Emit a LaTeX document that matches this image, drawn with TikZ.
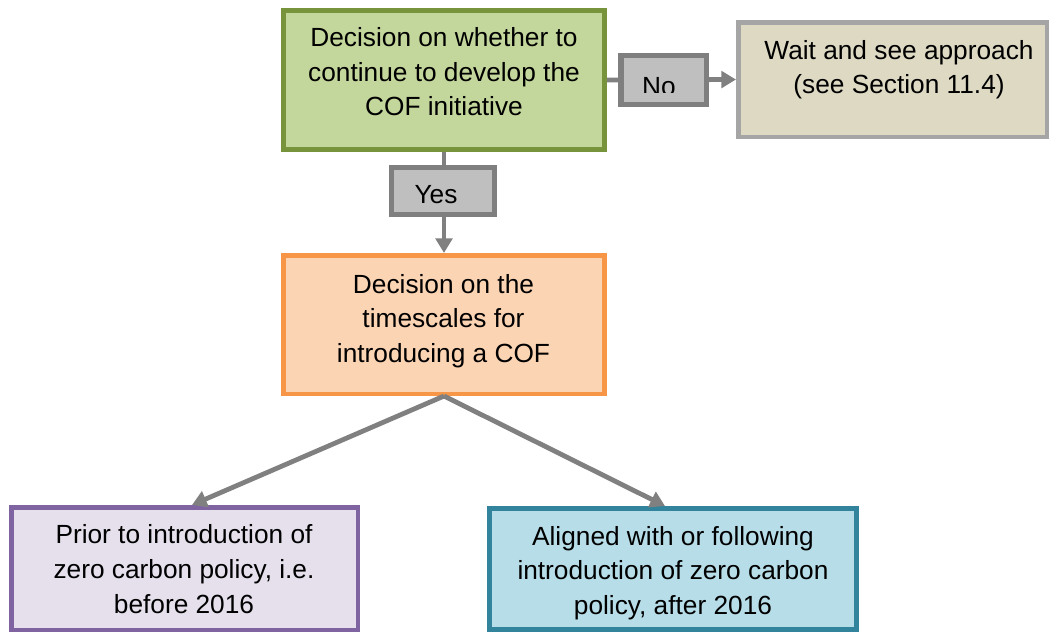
\documentclass[tikz,border=0pt]{standalone}
\usepackage{fontspec}
\setmainfont{Liberation Sans}
\usetikzlibrary{arrows.meta,calc}
\definecolor{grnB}{HTML}{77933C}
\definecolor{grnF}{HTML}{C3D69B}
\definecolor{orgB}{HTML}{F79646}
\definecolor{orgF}{HTML}{FBD4B4}
\definecolor{waitB}{HTML}{A5A5A5}
\definecolor{waitF}{HTML}{DDD9C3}
\definecolor{purB}{HTML}{8064A2}
\definecolor{purF}{HTML}{E5E0EC}
\definecolor{tealB}{HTML}{31849B}
\definecolor{tealF}{HTML}{B7DDE8}
\definecolor{lblB}{HTML}{7F7F7F}
\definecolor{lblF}{HTML}{BFBFBF}
\definecolor{arr}{HTML}{808080}
\begin{document}
\begin{tikzpicture}[x=0.75pt,y=-0.75pt,
  boxstyle/.style={draw,rectangle,inner sep=0pt,line width=3.4pt},
  lblstyle/.style={draw=lblB,fill=lblF,rectangle,inner sep=0pt,line width=4.1pt},
  txt/.style={inner sep=0pt,align=center,anchor=base,font=\fontsize{19.7pt}{25.9pt}\selectfont},
  conn/.style={draw=arr,line width=3.6pt,-{Triangle[length=11pt,width=12.5pt]}}]
\useasboundingbox (0,0) rectangle (1050,632);
% boxes
\node[boxstyle,draw=grnB,fill=grnF,minimum width=241.1pt,minimum height=104.6pt] (green) at (444,80) {};
\node[boxstyle,draw=waitB,fill=waitF,minimum width=231.4pt,minimum height=85.9pt] (wait) at (892.5,79.5) {};
\node[boxstyle,draw=orgB,fill=orgF,minimum width=241.1pt,minimum height=103.9pt] (orange) at (444,324.5) {};
\node[boxstyle,draw=purB,fill=purF,minimum width=259.9pt,minimum height=91.9pt] (purple) at (184.5,568.5) {};
\node[boxstyle,draw=tealB,fill=tealF,minimum width=275.6pt,minimum height=91.1pt] (teal) at (673,569) {};
% texts (anchor = baseline of the last line)
\node[txt] (tgreen) at (444,115.7) {Decision on whether to\\continue to develop the\\COF initiative};
\node[txt] (twait) at (899,93.8) {Wait and see approach\\(see Section 11.4)};
\node[txt] (torange) at (443.5,362.3) {Decision on the\\timescales for\\introducing a COF};
\node[txt] (tpurple) at (184,613) {Prior to introduction of\\zero carbon policy, i.e.\\before 2016};
\node[txt] (tteal) at (673,614.5) {Aligned with or following\\introduction of zero carbon\\policy, after 2016};
% connectors
\draw[conn] (green.east) -- (wait.west);
\draw[conn] (green.south) -- (orange.north);
\draw[conn] (orange.south) -- ($(purple.north)+(7.5,0)$);
\draw[conn] (orange.south) -- ($(teal.north)+(-8,0)$);
% labels
\node[lblstyle,minimum width=64.1pt,minimum height=36.4pt] (no) at (663.5,80) {};
\node[lblstyle,minimum width=76.9pt,minimum height=34.9pt] (yes) at (443,191) {};
\begin{scope}
\clip (618,53) rectangle (709,92);
\node[txt] (tno) at (659,95.4) {No};
\end{scope}
\begin{scope}
\clip (389,165) rectangle (497,203.5);
\node[txt] (tyes) at (436,203.7) {Yes};
\end{scope}
\end{tikzpicture}
\end{document}
